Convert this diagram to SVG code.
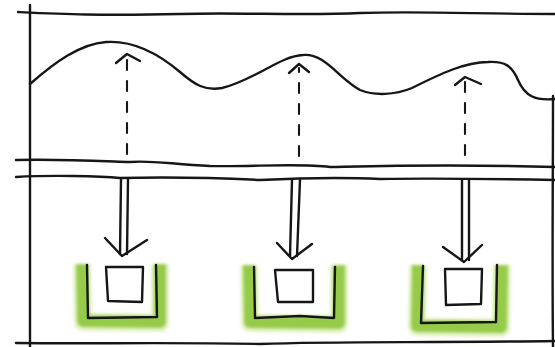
<svg xmlns="http://www.w3.org/2000/svg" width="555" height="347" viewBox="0 0 555 347">
<defs>
<style>
.ink{fill:none;stroke:#161616;stroke-width:2.4;stroke-linecap:round;stroke-linejoin:round}
.dash{fill:none;stroke:#161616;stroke-width:2.1;stroke-linecap:round;stroke-dasharray:10 11}
.glow{fill:none;stroke:#8ec63c;stroke-width:12;stroke-linejoin:round;opacity:0.9}
.glow2{fill:none;stroke:#c2e07a;stroke-width:18;stroke-linejoin:round;opacity:0.45}
</style>
<filter id="blur" x="-20%" y="-20%" width="140%" height="140%"><feGaussianBlur stdDeviation="1.5"/></filter>
</defs>
<rect width="555" height="347" fill="#ffffff"/>
<g id="frame">
<path class="ink" d="M18 12 C60 14 100 16 180 14 C240 12 300 16 360 13 C420 11 480 14 555 14"/>
<path class="ink" d="M30 5 C31 80 29 200 30 347"/>
<path class="ink" d="M553 96 C553 180 552 260 553 347"/>
<path class="ink" d="M16 160 C60 159 100 161 130 162 C150 160 170 164 210 166 C250 167 300 163 330 167 C380 166 450 164 555 167"/>
<path class="ink" d="M16 177 C50 175 100 176 120 178 C160 177 220 178 260 180 C300 178 340 177 380 179 C440 178 500 179 555 180"/>
<path class="ink" d="M16 343 C100 344 160 342 260 344 C340 341 420 343 555 341"/>
</g>
<g id="wave">
<path class="ink" d="M30 84 C55 62 80 44 106 42 C135 40 160 55 180 72 C195 85 205 91 222 88 C255 80 280 56 303 55 C325 53 338 78 360 90 C375 96 395 95 412 88 C440 74 465 62 488 62 C505 61 512 66 518 80 C525 96 535 101 555 99"/>
</g>
<g id="connectors">
<g id="up1"><path class="dash" d="M127 154 L127 58"/><path class="ink" d="M116 63 L127 54 L140 61"/></g>
<g id="up2"><path class="dash" d="M299 156 L299 68"/><path class="ink" d="M289 73 L299 64 L309 72"/></g>
<g id="up3"><path class="dash" d="M465 155 L465 80"/><path class="ink" d="M455 85 L465 77 L481 84"/></g>
<g id="down1"><path class="ink" d="M121 179 L120 254 M128 179 L127 254"/><path class="ink" d="M105 238 L122 256 L147 240"/></g>
<g id="down2"><path class="ink" d="M292 180 L290 256 M300 180 L297 256"/><path class="ink" d="M277 243 L292 259 L312 244"/></g>
<g id="down3"><path class="ink" d="M462 180 L462 260 M469 180 L469 260"/><path class="ink" d="M443 247 L464 262 L482 245"/></g>
</g>
<g id="node1">
<g filter="url(#blur)"><path class="glow2" d="M82 264 L83 322 L160 323 L160 264"/><path class="glow" d="M82 264 L83 321 L160 322 L160 264"/></g>
<path class="ink" d="M87 265 L88 318 L157 317 L156 265"/>
<path class="ink" d="M106 267 L143 267 L142 302 L108 301 Z"/>
</g>
<g id="node2">
<g filter="url(#blur)"><path class="glow2" d="M249 265 L250 323 L339 324 L339 265"/><path class="glow" d="M249 265 L250 322 L339 323 L339 265"/></g>
<path class="ink" d="M254 267 L255 318 L300 316 L334 318 L335 267"/>
<path class="ink" d="M275 270 L313 270 L313 302 L278 302 Z"/>
</g>
<g id="node3">
<g filter="url(#blur)"><path class="glow2" d="M418 265 L417 327 L501 328 L502 265"/><path class="glow" d="M418 265 L417 326 L501 327 L502 265"/></g>
<path class="ink" d="M423 266 L421 323 L496 322 L497 265"/>
<path class="ink" d="M445 269 L482 269 L481 304 L446 305 Z"/>
</g>
</svg>
